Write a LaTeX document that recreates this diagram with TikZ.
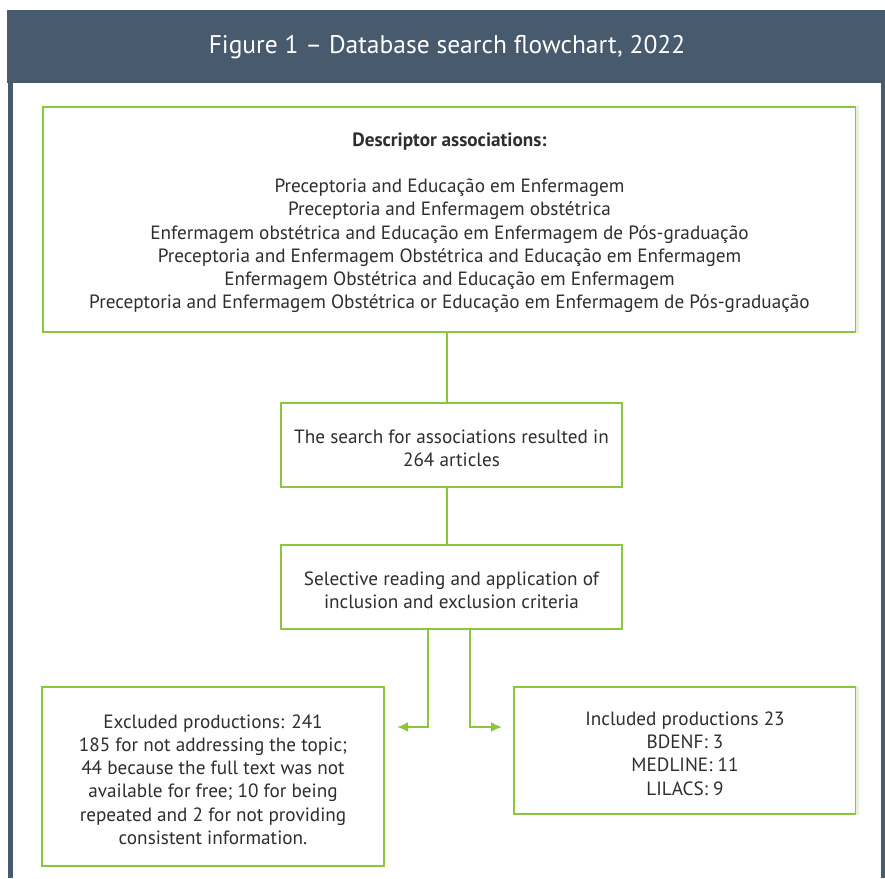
\documentclass[tikz,border=0pt]{standalone}
\usepackage{fontspec}
\setmainfont{PT Sans}
\usetikzlibrary{arrows.meta}
\definecolor{hdr}{HTML}{475A6E}
\definecolor{grn}{HTML}{8CC63F}
\definecolor{grnl}{HTML}{E6F2D6}
\definecolor{txt}{HTML}{2E2E2E}
\newcommand{\topstrutx}{\rule{0pt}{20pt}}
\tikzset{
  box/.style={draw=grn, line width=2.6pt, fill=white, align=center, text=txt,
    inner sep=0pt, font=\fontsize{19.2}{23.2}\selectfont},
  conn/.style={draw=grn, line width=2pt},
  arr/.style={conn, -{Latex[length=11pt,width=10pt]}},
}
\begin{document}
\begin{tikzpicture}[x=1pt,y=-1pt]
\useasboundingbox (0,0) rectangle (885,878);
% frame
\fill[hdr] (7,10) rectangle (885,83);
\fill[hdr] (8,83) rectangle (13,878);
\fill[hdr] (881,83) rectangle (885,878);
\node[text=white, font=\fontsize{25.5}{30}\selectfont] (title) at (447,47) {Figure 1 – Database search flowchart, 2022};
% boxes
\node[box, minimum width=813pt, minimum height=225pt] (top) at (449.5,219.5)
 {\topstrutx\textbf{Descriptor associations:}\\[23.2pt]
  Preceptoria and Educação em Enfermagem\\
  Preceptoria and Enfermagem obstétrica\\
  Enfermagem obstétrica and Educação em Enfermagem de Pós-graduação\\
  Preceptoria and Enfermagem Obstétrica and Educação em Enfermagem\\
  Enfermagem Obstétrica and Educação em Enfermagem\\
  Preceptoria and Enfermagem Obstétrica or Educação em Enfermagem de Pós-graduação};
\node[box, minimum width=341pt, minimum height=84pt] (search) at (451.5,445)
 {\topstrutx The search for associations resulted in\\264 articles};
\node[box, minimum width=341pt, minimum height=84pt] (select) at (451.5,587)
 {\topstrutx Selective reading and application of\\inclusion and exclusion criteria};
\node[box, minimum width=342pt, minimum height=179pt] (excl) at (213,776.5)
 {\topstrutx Excluded productions: 241\\185 for not addressing the topic;\\44 because the full text was not\\available for free; 10 for being\\repeated and 2 for not providing\\consistent information.};
\node[box, minimum width=342pt, minimum height=127pt] (incl) at (685,750.5)
 {\topstrutx Included productions 23\\BDENF: 3\\MEDLINE: 11\\LILACS: 9};
% faint right edges
\draw[grnl, line width=2.6pt] (top.north east) -- (top.south east);
\draw[grnl, line width=2.6pt] (incl.north east) -- (incl.south east);
% connectors
\coordinate (c1) at (447,0);
\draw[conn] (top.south -| c1) -- (search.north -| c1);
\draw[conn] (search.south -| c1) -- (select.north -| c1);
\coordinate (lx) at (428,727);
\coordinate (rx) at (470,727);
\coordinate (lend) at (397,727);
\coordinate (rend) at (502,727);
\draw[arr] (select.south -| lx) -- (lx) -- (lend);
\draw[arr] (select.south -| rx) -- (rx) -- (rend);
\end{tikzpicture}
\end{document}
